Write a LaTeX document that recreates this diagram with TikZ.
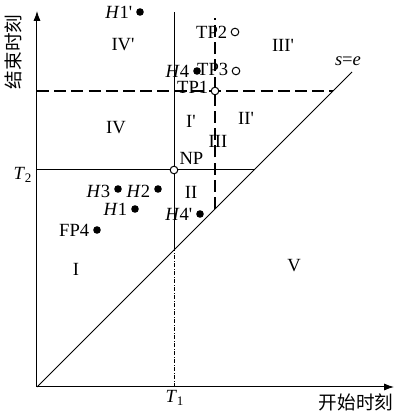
\documentclass[tikz,border=0pt]{standalone}
\usepackage{fontspec}
\setmainfont{Liberation Serif}
\newfontfamily\cjkfont{Noto Sans CJK SC}
\usetikzlibrary{arrows.meta}

\tikzset{
  dot/.style={circle,fill,inner sep=0pt,minimum size=3.8pt},
  odot/.style={circle,draw,fill=white,inner sep=0pt,minimum size=3.8pt,line width=.5pt},
  bigdash/.style={line width=1pt,dash pattern=on 6pt off 2.6pt},
}
\newcommand{\pr}{\textquotesingle}

\begin{document}
\begin{tikzpicture}[x=.5pt,y=.5pt,line width=.5pt,font=\fontsize{9.3}{11}\selectfont]
\useasboundingbox (-37,-26) rectangle (358,387);
% axes
\draw[-{Latex[length=5pt,width=3.6pt]}] (0,0)--(357,0);
\draw[-{Latex[length=5pt,width=3.6pt]}] (0,0)--(0,376);
\node[rotate=90,inner sep=0pt] (ylab) at (-24,335) {\cjkfont 结束时刻};
\node[inner sep=0pt] (xlab) at (319,-15) {\cjkfont 开始时刻};
% region borders
\draw (0,0)--(315,315);
\draw (137,137)--(137,375) (0,217)--(217,217);
\draw[line width=.35pt,dash pattern=on 2pt off .8pt on .4pt off .8pt] (137,0)--(137,137);
\draw[bigdash] (0,296)--(296,296) (178,178)--(178,369);
\node[inner sep=0pt] at (311,326) {\textit{s}=\textit{e}};
\node[anchor=base,inner sep=0pt] at (-14,207) {\textit{T}\textsubscript{2}};
\node[anchor=base,inner sep=0pt] at (138,-16) {\textit{T}\textsubscript{1}};
% regions
\node at (39,118) {I};
\node at (154,195) {II};
\node at (181,246) {III};
\node at (79,259) {IV};
\node at (257,121) {V};
\node at (154,266) {I\pr};
\node at (209,269) {II\pr};
\node at (246,342) {III\pr};
\node at (86,342) {IV\pr};
% points
\node[odot] (np) at (137,217) {};
\node[anchor=south west,inner sep=1pt] at (np.north east) {NP};
\node[odot] (tp1) at (178,296) {};
\node[left,inner sep=1pt] at ([yshift=2pt]tp1.west) {TP1};
\node[odot] (tp2) at (198,355) {};
\node[left,inner sep=1.5pt] at (tp2.west) {TP2};
\node[odot] (tp3) at (199,316) {};
\node[left,inner sep=1.5pt] at ([yshift=1pt]tp3.west) {TP3};
\node[dot] (h4) at (160,316) {};
\node[left,inner sep=1.5pt] at (h4.west) {\textit{H}4};
\node[dot] (h1p) at (103,375) {};
\node[left,inner sep=1.5pt] at (h1p.west) {\textit{H}1\pr};
\node[dot] (h2) at (121,198) {};
\node[left,inner sep=1.5pt] at ([yshift=-1pt]h2.west) {\textit{H}2};
\node[dot] (h3) at (81,198) {};
\node[left,inner sep=1.5pt] at ([yshift=-1pt]h3.west) {\textit{H}3};
\node[dot] (h1) at (98,178) {};
\node[left,inner sep=1.5pt] at (h1.west) {\textit{H}1};
\node[dot] (fp4) at (60,157) {};
\node[left,inner sep=1.5pt] at (fp4.west) {FP4};
\node[dot] (h4p) at (163,173) {};
\node[left,inner sep=1.5pt] at (h4p.west) {\textit{H}4\pr};
\end{tikzpicture}
\end{document}
